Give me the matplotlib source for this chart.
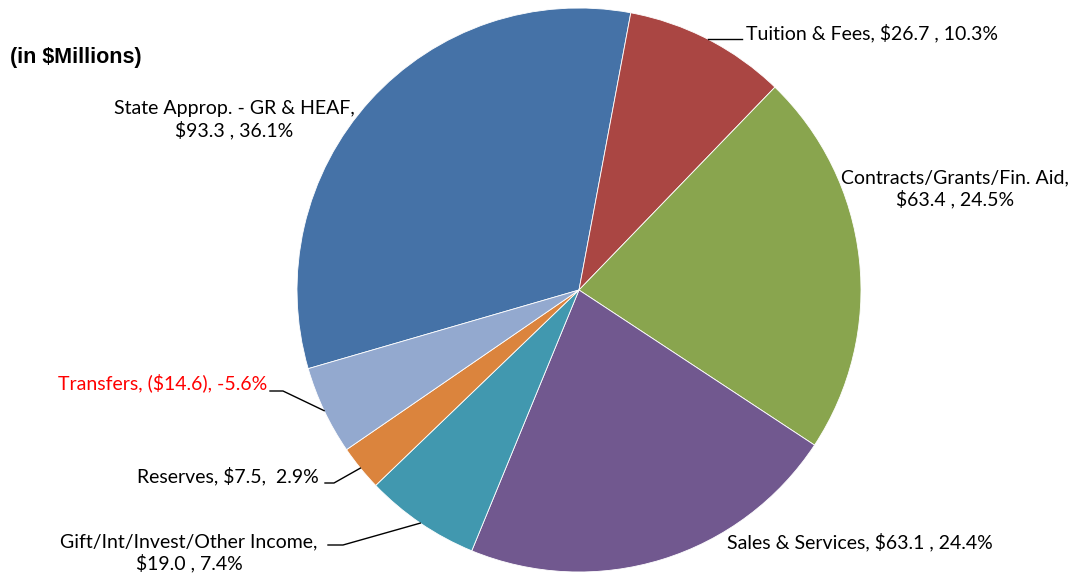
import numpy as np
import matplotlib
matplotlib.use("Agg")
import matplotlib.pyplot as plt

# data (in $Millions)
categories = ["State Approp. - GR & HEAF", "Tuition & Fees", "Contracts/Grants/Fin. Aid",
              "Sales & Services", "Gift/Int/Invest/Other Income", "Reserves", "Transfers"]
amounts = [93.3, 26.7, 63.4, 63.1, 19.0, 7.5, -14.6]
percents = [36.1, 10.3, 24.5, 24.4, 7.4, 2.9, -5.6]
colors = ["#4572A7", "#AA4643", "#89A54E", "#71588F", "#4198AF", "#DB843D", "#93A9CF"]

W, H = 1071, 577
fig = plt.figure(figsize=(W / 100, H / 100), dpi=100)
ax = fig.add_axes([0, 0, 1, 1])

cx, cy, r = 579, H - 290, 282
sizes = [abs(a) for a in amounts]
wedges, _ = ax.pie(sizes, colors=colors, startangle=196.2, counterclock=False,
                   center=(cx, cy), radius=r, frame=True,
                   wedgeprops=dict(edgecolor="white", linewidth=0.6))
ax.set_xlim(0, W)
ax.set_ylim(0, H)
ax.set_aspect("equal")
ax.axis("off")

font = "Lato"
fs = 14


def money(v):
    return "(${:.1f})".format(-v) if v < 0 else "${:.1f}".format(v)


def edge(w):
    a = np.deg2rad((w.theta1 + w.theta2) / 2)
    return cx + r * np.cos(a), cy + r * np.sin(a)


def Y(py):
    return H - py


# title
ax.text(10, Y(57), "(in $Millions)", fontsize=15.5, fontweight="bold",
        family="Liberation Sans", ha="left", va="center")

# State Approp
ax.text(234, Y(120), "{},\n{} , {}%".format(categories[0], money(amounts[0]), percents[0]),
        family=font, fontsize=fs, ha="center", va="center", linespacing=1.25)

# Tuition
ex, ey = edge(wedges[1])
ax.text(746, Y(33), "{}, {} , {}%".format(categories[1], money(amounts[1]), percents[1]),
        family=font, fontsize=fs, ha="left", va="center")
ax.plot([ex, 742], [ey, ey], color="black", lw=1)

# Contracts
ax.text(955, Y(189), "{},\n{} , {}%".format(categories[2], money(amounts[2]), percents[2]),
        family=font, fontsize=fs, ha="center", va="center", linespacing=1.25)

# Sales
ax.text(727, Y(542), "{}, {} , {}%".format(categories[3], money(amounts[3]), percents[3]),
        family=font, fontsize=fs, ha="left", va="center")

# Gift
ex, ey = edge(wedges[4])
ax.text(189, Y(553), "{},\n{} , {}%".format(categories[4], money(amounts[4]), percents[4]),
        family=font, fontsize=fs, ha="center", va="center", linespacing=1.25)
ax.plot([328, 343, ex], [Y(545), Y(545), ey], color="black", lw=1)

# Reserves
ex, ey = edge(wedges[5])
ax.text(319, Y(476), "{}, {},  {}%".format(categories[5], money(amounts[5]), percents[5]),
        family=font, fontsize=fs, ha="right", va="center")
ax.plot([325, 334, ex], [Y(483), Y(483), ey], color="black", lw=1)

# Transfers (negative, shown in red)
ex, ey = edge(wedges[6])
ax.text(267, Y(383), "{}, {}, {}%".format(categories[6], money(amounts[6]), percents[6]),
        family=font, fontsize=fs, ha="right", va="center", color="red")
ax.plot([270, 283, ex], [Y(391), Y(391), ey], color="black", lw=1)

fig.savefig("out.png", dpi=100)
